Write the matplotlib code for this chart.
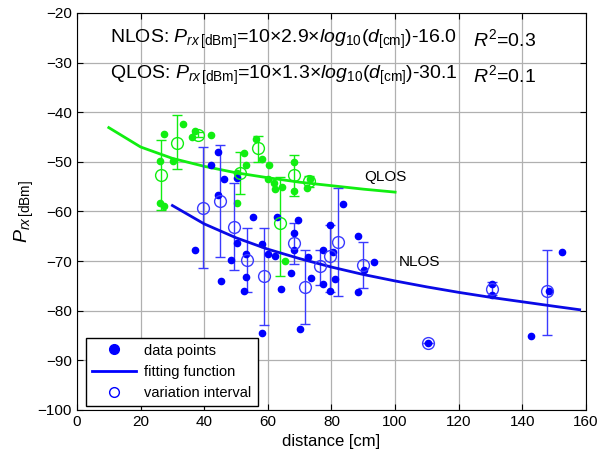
import numpy as np
import matplotlib.pyplot as plt
from matplotlib.lines import Line2D

plt.rcParams['font.family'] = 'Liberation Sans'
plt.rcParams['mathtext.fontset'] = 'custom'
plt.rcParams['mathtext.rm'] = 'Liberation Sans'
plt.rcParams['mathtext.it'] = 'Liberation Sans:italic'

# QLOS measurements (green)
q_d = [26.1, 27.2, 26.2, 27.3, 30.2, 33.2, 36.2, 37.2, 42.0, 50.2, 50.2, 52.5, 53.2,
       56.2, 58.3, 60.3, 60.2, 61.8, 62.4, 64.4, 68.2, 68.2, 73.3, 72.2, 65.3]
q_p = [-58.2, -58.9, -49.9, -44.3, -49.9, -42.4, -44.9, -43.8, -44.5, -58.2, -52.2, -48.3, -50.6,
       -45.4, -49.5, -50.6, -53.5, -54.3, -55.5, -55.1, -50.0, -55.9, -53.5, -55.3, -70.0]

# QLOS variation intervals
qv_d = [26.4, 31.4, 38.1, 51.4, 57.0, 63.8, 68.2, 73.0]
qv_p = [-52.6, -46.1, -44.5, -52.2, -47.2, -62.3, -52.7, -53.8]
qv_hi = [-45.6, -40.6, -44.0, -48.0, -44.7, -53.0, -48.6, -52.8]
qv_lo = [-59.7, -51.5, -45.0, -56.4, -50.1, -73.0, -56.9, -55.0]

# NLOS measurements (blue)
n_d = [44.3, 42.0, 46.2, 50.2, 44.3, 55.4, 63.0, 69.4, 83.5, 37.2, 48.4, 50.2, 53.2, 53.2,
       45.3, 52.5, 58.3, 60.2, 62.2, 68.2, 68.2, 67.2, 64.2, 58.3, 70.1, 72.5, 73.5, 77.2,
       77.2, 79.5, 80.5, 81.2, 79.5, 88.2, 88.2, 90.3, 93.4, 110.3, 130.3, 130.3, 142.6,
       148.5, 152.6]
n_p = [-48.1, -50.6, -53.5, -53.3, -56.6, -61.2, -61.1, -61.7, -58.4, -67.8, -69.8, -66.4,
       -68.5, -73.3, -74.0, -76.0, -66.6, -68.6, -69.0, -64.3, -67.8, -72.4, -75.7, -84.4,
       -83.7, -69.1, -73.4, -67.8, -74.7, -62.8, -68.1, -73.7, -76.0, -65.0, -76.3, -71.7,
       -70.2, -86.6, -74.7, -76.9, -85.1, -76.0, -68.1]

# NLOS variation intervals
nv_d = [39.6, 44.9, 49.3, 53.3, 58.9, 68.1, 71.8, 76.5, 79.5, 82.1, 89.9, 110.3, 130.3, 147.6]
nv_p = [-59.3, -57.8, -63.1, -69.7, -73.0, -66.3, -75.3, -71.0, -68.9, -66.1, -70.8, -86.6,
        -75.6, -76.1]
nv_hi = [-47.1, -46.7, -54.3, -63.3, -63.3, -62.3, -67.8, -67.8, -62.7, -55.3, -66.1, -86.6,
         -74.2, -67.8]
nv_lo = [-71.3, -69.1, -71.8, -76.3, -82.8, -70.5, -82.6, -74.8, -76.2, -77.0, -75.5, -86.6,
         -76.8, -84.9]

# fitted curves
qf_d = [10, 20, 30, 40, 50, 60, 70, 80, 90, 100]
qf_p = [-43.1, -47.0, -49.3, -50.9, -52.2, -53.2, -54.1, -54.8, -55.5, -56.1]
nf_d = [30, 40, 50, 60, 70, 80, 90, 100, 110, 120, 130, 140, 150, 158]
nf_p = [-58.8, -62.5, -65.3, -67.6, -69.5, -71.2, -72.7, -74.0, -75.2, -76.3, -77.3, -78.2,
        -79.1, -79.8]

green = '#11ee11'
blue = '#0000ff'
blue_l = '#3a3aff'

fig = plt.figure(figsize=(5.99, 4.59), dpi=100)
ax = fig.add_axes([0.1285, 0.1068, 0.8498, 0.8649])

ax.grid(True, color='#b0b0b0', lw=0.9, ls='-')
ax.set_axisbelow(True)

# QLOS
qerr = [np.array(qv_p) - np.array(qv_lo), np.array(qv_hi) - np.array(qv_p)]
ax.errorbar(qv_d, qv_p, yerr=qerr, fmt='o', mfc='none', mec=green, ecolor=green,
            ms=8.5, mew=1, elinewidth=1, capsize=3.5, capthick=1)
ax.plot(q_d, q_p, 'o', color=green, ms=4.5)
ax.plot(qf_d, qf_p, '-', color=green, lw=2)

# NLOS
nerr = [np.array(nv_p) - np.array(nv_lo), np.array(nv_hi) - np.array(nv_p)]
ax.errorbar(nv_d, nv_p, yerr=nerr, fmt='o', mfc='none', mec=blue_l, ecolor=blue_l,
            ms=8.5, mew=1, elinewidth=1, capsize=3.5, capthick=1)
ax.plot(n_d, n_p, 'o', color=blue, ms=4.5)
ax.plot(nf_d, nf_p, '-', color='#0a0ae6', lw=2)

ax.text(90.2, -53.1, 'QLOS', fontsize=11, va='center', ha='left')
ax.text(101, -70.1, 'NLOS', fontsize=11, va='center', ha='left')

fs = 14
ax.text(10.4, -25.3, r'NLOS: $P_{rx\,\mathrm{[dBm]}}$=10×2.9×$log_{10}$($d_{\mathrm{[cm]}}$)-16.0',
        fontsize=fs, va='center', ha='left')
ax.text(124.6, -25.3, r'$R^2$=0.3', fontsize=fs, va='center', ha='left')
ax.text(10.4, -32.6, r'QLOS: $P_{rx\,\mathrm{[dBm]}}$=10×1.3×$log_{10}$($d_{\mathrm{[cm]}}$)-30.1',
        fontsize=fs, va='center', ha='left')
ax.text(124.6, -32.6, r'$R^2$=0.1', fontsize=fs, va='center', ha='left')

ax.set_xlim(0, 160)
ax.set_ylim(-100, -20)
ax.set_xticks(np.arange(0, 161, 20))
ax.set_yticks(np.arange(-100, -19, 10))
ax.tick_params(direction='in', top=True, right=True, labelsize=11, length=4)
ax.set_xlabel('distance [cm]', fontsize=12)
ax.set_ylabel(r'$P_{rx\,\mathrm{[dBm]}}$', fontsize=14, labelpad=1)

handles = [Line2D([], [], ls='none', marker='o', color=blue, ms=7),
           Line2D([], [], ls='-', color=blue, lw=2),
           Line2D([], [], ls='none', marker='o', mfc='none', mec=blue, ms=7)]
leg = ax.legend(handles, ['data points', 'fitting function', 'variation interval'],
                loc='lower left', bbox_to_anchor=(0.018, 0.01), borderaxespad=0,
                fontsize=10.5, fancybox=False, edgecolor='black', framealpha=1,
                borderpad=0.4, labelspacing=0.5, handlelength=3.0, handletextpad=0.6)
leg.get_frame().set_linewidth(1)

fig.savefig('out.png', dpi=100)
